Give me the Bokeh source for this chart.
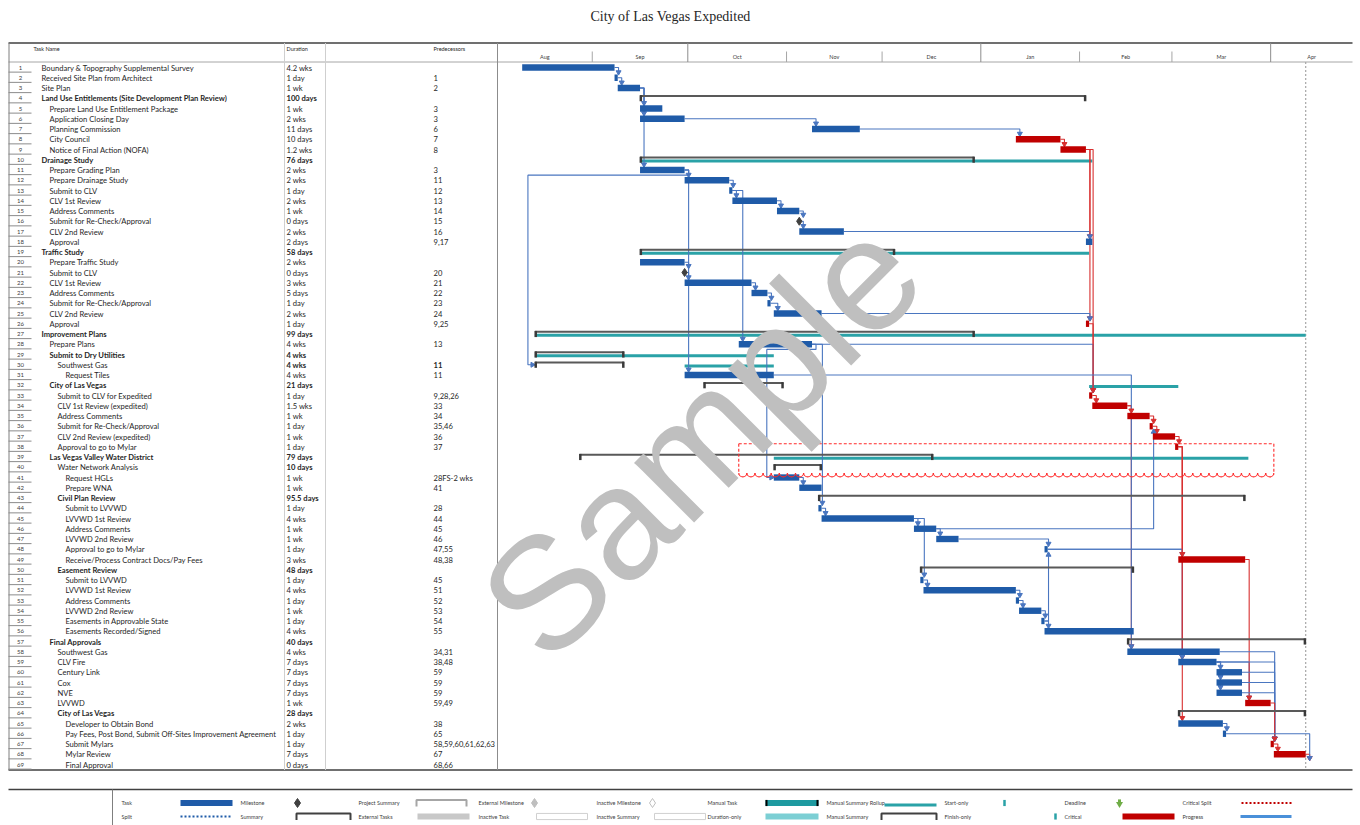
import re
import math
from datetime import datetime
from bokeh.plotting import figure
from bokeh.models import Range1d
from bokeh.core.properties import value
from bokeh.embed import file_html
from bokeh.resources import INLINE

# ---------------- data ----------------
title_text = "City of Las Vegas Expedited"

task_names = [
    "Boundary & Topography Supplemental Survey", "Received Site Plan from Architect", "Site Plan",
    "Land Use Entitlements (Site Development Plan Review)", "Prepare Land Use Entitlement Package",
    "Application Closing Day", "Planning Commission", "City Council", "Notice of Final Action (NOFA)",
    "Drainage Study", "Prepare Grading Plan", "Prepare Drainage Study", "Submit to CLV", "CLV 1st Review",
    "Address Comments", "Submit for Re-Check/Approval", "CLV 2nd Review", "Approval", "Traffic Study",
    "Prepare Traffic Study", "Submit to CLV", "CLV 1st Review", "Address Comments",
    "Submit for Re-Check/Approval", "CLV 2nd Review", "Approval", "Improvement Plans", "Prepare Plans",
    "Submit to Dry Utilities", "Southwest Gas", "Request Tiles", "City of Las Vegas",
    "Submit to CLV for Expedited", "CLV 1st Review (expedited)", "Address Comments",
    "Submit for Re-Check/Approval", "CLV 2nd Review (expedited)", "Approval to go to Mylar",
    "Las Vegas Valley Water District", "Water Network Analysis", "Request HGLs", "Prepare WNA",
    "Civil Plan Review", "Submit to LVVWD", "LVVWD 1st Review", "Address Comments", "LVVWD 2nd Review",
    "Approval to go to Mylar", "Receive/Process Contract Docs/Pay Fees", "Easement Review",
    "Submit to LVVWD", "LVVWD 1st Review", "Address Comments", "LVVWD 2nd Review",
    "Easements in Approvable State", "Easements Recorded/Signed", "Final Approvals", "Southwest Gas",
    "CLV Fire", "Century Link", "Cox", "NVE", "LVVWD", "City of Las Vegas", "Developer to Obtain Bond",
    "Pay Fees, Post Bond, Submit Off-Sites Improvement Agreement", "Submit Mylars", "Mylar Review",
    "Final Approval",
]

durations = [
    "4.2 wks", "1 day", "1 wk", "100 days", "1 wk", "2 wks", "11 days", "10 days", "1.2 wks", "76 days",
    "2 wks", "2 wks", "1 day", "2 wks", "1 wk", "0 days", "2 wks", "2 days", "58 days", "2 wks",
    "0 days", "3 wks", "5 days", "1 day", "2 wks", "1 day", "99 days", "4 wks", "4 wks", "4 wks",
    "4 wks", "21 days", "1 day", "1.5 wks", "1 wk", "1 day", "1 wk", "1 day", "79 days", "10 days",
    "1 wk", "1 wk", "95.5 days", "1 day", "4 wks", "1 wk", "1 wk", "1 day", "3 wks", "48 days",
    "1 day", "4 wks", "1 day", "1 wk", "1 day", "4 wks", "40 days", "4 wks", "7 days", "7 days",
    "7 days", "7 days", "1 wk", "28 days", "2 wks", "1 day", "1 day", "7 days", "0 days",
]

predecessors = [
    "", "1", "2", "", "3", "3", "6", "7", "8", "", "3", "11", "12", "13", "14", "15", "16", "9,17", "",
    "", "20", "21", "22", "23", "24", "9,25", "", "13", "", "11", "11", "", "9,28,26", "33", "34",
    "35,46", "36", "37", "", "", "28FS-2 wks", "41", "", "28", "44", "45", "46", "47,55", "48,38", "",
    "45", "51", "52", "53", "54", "55", "", "34,31", "38,48", "59", "59", "59", "59,49", "", "38",
    "65", "58,59,60,61,62,63", "67", "68,66",
]

outline_levels = [
    1, 1, 1, 1, 2, 2, 2, 2, 2, 1, 2, 2, 2, 2, 2, 2, 2, 2, 1, 2, 2, 2, 2, 2, 2, 2, 1, 2, 2, 3,
    4, 2, 3, 3, 3, 3, 3, 3, 2, 3, 4, 4, 3, 4, 4, 4, 4, 4, 4, 3, 4, 4, 4, 4, 4, 4, 2, 3, 3, 3,
    3, 3, 3, 3, 4, 4, 4, 4, 4,
]

summary_ids = [4, 10, 19, 27, 29, 30, 32, 39, 40, 43, 50, 57, 64]
milestone_ids = [16, 21, 69]
hidden_milestone_ids = [69]
critical_ids = [8, 9, 26, 33, 34, 35, 36, 37, 38, 49, 63, 67, 68, 69]
name_bold_ids = [4, 10, 19, 27, 29, 32, 39, 43, 50, 57, 64]
dur_bold_ids = [4, 10, 19, 27, 29, 30, 32, 39, 40, 43, 50, 57, 64]
pred_bold_ids = [30]

starts = [
    "2019-08-10", "2019-09-08", "2019-09-09", "2019-09-16", "2019-09-16", "2019-09-16", "2019-11-09",
    "2020-01-12", "2020-01-26", "2019-09-16", "2019-09-16", "2019-09-30", "2019-10-14", "2019-10-15",
    "2019-10-29", "2019-11-05", "2019-11-05", "2020-02-03", "2019-09-16", "2019-09-16", "2019-09-30",
    "2019-09-30", "2019-10-21", "2019-10-26", "2019-10-28", "2020-02-03", "2019-08-14", "2019-10-17",
    "2019-08-14", "2019-08-14", "2019-09-30", "2019-10-06", "2020-02-04", "2020-02-05", "2020-02-16",
    "2020-02-23", "2020-02-24", "2020-03-02", "2019-08-28", "2019-10-28", "2019-10-28", "2019-11-05",
    "2019-11-11", "2019-11-11", "2019-11-12", "2019-12-11", "2019-12-18", "2020-01-21", "2020-03-03",
    "2019-12-13", "2019-12-13", "2019-12-14", "2020-01-12", "2020-01-13", "2020-01-20", "2020-01-21",
    "2020-02-16", "2020-02-16", "2020-03-03", "2020-03-15", "2020-03-15", "2020-03-15", "2020-03-24",
    "2020-03-03", "2020-03-03", "2020-03-17", "2020-04-01", "2020-04-02", "2020-04-12",
]

finishes = [
    "2019-09-08", "2019-09-09", "2019-09-16", "2020-02-03", "2019-09-23", "2019-09-30", "2019-11-24",
    "2020-01-26", "2020-02-03", "2019-12-30", "2019-09-30", "2019-10-14", "2019-10-15", "2019-10-29",
    "2019-11-05", "2019-11-05", "2019-11-19", "2020-02-05", "2019-12-05", "2019-09-30", "2019-09-30",
    "2019-10-21", "2019-10-26", "2019-10-27", "2019-11-12", "2020-02-04", "2019-12-30", "2019-11-09",
    "2019-09-11", "2019-09-11", "2019-10-28", "2019-10-31", "2020-02-05", "2020-02-16", "2020-02-23",
    "2020-02-24", "2020-03-02", "2020-03-03", "2019-12-17", "2019-11-12", "2019-11-05", "2019-11-12",
    "2020-03-24", "2019-11-12", "2019-12-11", "2019-12-18", "2019-12-25", "2020-01-22", "2020-03-24",
    "2020-02-18", "2019-12-14", "2020-01-12", "2020-01-13", "2020-01-20", "2020-01-21", "2020-02-18",
    "2020-04-12", "2020-03-16", "2020-03-15", "2020-03-23", "2020-03-23", "2020-03-23", "2020-04-01",
    "2020-04-12", "2020-03-17", "2020-03-18", "2020-04-02", "2020-04-12", "2020-04-12",
]

rollup_ids = [10, 19, 27, 29, 30, 32, 39]
rollup_starts = ["2019-09-16", "2019-09-16", "2019-08-14", "2019-08-14", "2019-09-30", "2020-02-04", "2019-10-28"]
rollup_finishes = ["2020-02-05", "2020-02-04", "2020-04-12", "2019-10-28", "2019-10-28", "2020-03-03", "2020-03-25"]

months = ["Aug", "Sep", "Oct", "Nov", "Dec", "Jan", "Feb", "Mar", "Apr"]
month_starts = ["2019-08-01", "2019-09-01", "2019-10-01", "2019-11-01", "2019-12-01",
                "2020-01-01", "2020-02-01", "2020-03-01", "2020-04-01", "2020-05-01"]
quarter_starts = ["2019-10-01", "2020-01-01", "2020-04-01"]
deadline_date = "2020-04-12"
cloud_dates = ["2019-10-17", "2020-04-02"]
cloud_rows = [37.7, 40.7]
watermark_text = "Sample"

legend_row1 = ["Task", "Milestone", "Project Summary", "External Milestone", "Inactive Milestone",
               "Manual Task", "Manual Summary Rollup", "Start-only", "Deadline", "Critical Split"]
legend_row2 = ["Split", "Summary", "External Tasks", "Inactive Task", "Inactive Summary",
               "Duration-only", "Manual Summary", "Finish-only", "Critical", "Progress"]
legend_kind1 = ["bar_blue", "diamond_dark", "bracket_light", "diamond_gray", "diamond_white",
                "manual_task", "teal_line", "tick", "deadline", "dotted_red"]
legend_kind2 = ["dotted_blue", "bracket_dark", "bar_gray", "box_white", "box_white",
                "bar_lteal", "bracket_dark", "tick", "bar_red", "line_blue"]

# ---------------- layout constants ----------------
FIG_W, FIG_H = 1360, 825
ROW_PX = 10.25
PX_DAY = 3.185
DAY = 86400000.0
PX = DAY / PX_DAY
EPOCH = datetime(1970, 1, 1)


def ms(s):
    return (datetime.fromisoformat(s) - EPOCH).total_seconds() * 1000.0


def pg(y):  # page y -> row coordinate
    return 1 + (y - 67) / ROW_PX


def fx(x):  # page x -> figure x
    return x


TIMELINE_X = fx(497)
view_start = ms("2019-08-02") + 6 * 3600000.0
t0 = view_start - TIMELINE_X * PX
t1 = t0 + FIG_W * PX
view_end = view_start + (1352 - 497) * PX
Y_TOP = pg(0)

BLUE = "#1F5BA8"
RED = "#C00000"
TEAL = "#2AA2A7"
LINK_BLUE = "#4A76C0"
LINK_RED = "#D83030"
DARK = "#595959"
TXT = "#262626"
FONT = value("Lato")

p = figure(width=FIG_W, height=FIG_H, output_backend="svg", toolbar_location=None,
           x_range=Range1d(0, FIG_W), y_range=Range1d(Y_TOP + FIG_H / ROW_PX, Y_TOP),
           x_axis_location=None, y_axis_location=None, min_border=0,
           outline_line_color=None, background_fill_color="white", border_fill_color="white")
p.xgrid.visible = False
p.ygrid.visible = False
p.extra_x_ranges = {"time": Range1d(t0, t1)}

ids = list(range(1, len(task_names) + 1))
S = {i: ms(s) for i, s in zip(ids, starts)}
F = {i: ms(f) for i, f in zip(ids, finishes)}
kind = {i: ("summary" if i in summary_ids else "milestone" if i in milestone_ids else "task") for i in ids}

# ---------------- title ----------------
p.text([fx(670)], [pg(16)], text=[title_text], text_font=value("Liberation Serif"),
       text_font_size="14px", text_align="center", text_baseline="middle", text_color=TXT)

# ---------------- table frame ----------------
top_y, head_y, bot_y = pg(42.5), pg(61.5), pg(769.5)
p.segment([fx(8)], [top_y], [fx(1352)], [top_y], line_color="#404040", line_width=1.5)
p.segment([fx(8)], [head_y], [fx(1352)], [head_y], line_color="#A6A6A6", line_width=1)
p.segment([fx(8)], [bot_y], [fx(1352)], [bot_y], line_color="#404040", line_width=1.5)
p.segment([fx(8.5)], [top_y], [fx(8.5)], [bot_y], line_color="#7F7F7F", line_width=1)
p.segment([fx(284), fx(325)], [top_y, top_y], [fx(284), fx(325)], [bot_y, bot_y],
          line_color="#CFCFCF", line_width=1)
p.segment([TIMELINE_X], [top_y], [TIMELINE_X], [bot_y], line_color="#8C8C8C", line_width=1)
p.segment([fx(8)] * len(ids), [i + 0.45 for i in ids], [fx(31)] * len(ids), [i + 0.45 for i in ids],
          line_color="#8C8C8C", line_width=1)

hy = pg(48.5)
p.text([fx(33), fx(286), fx(433)], [hy] * 3, text=["Task Name", "Duration", "Predecessors"],
       text_font=FONT, text_font_size="5.5px", text_baseline="middle", text_color=TXT)

p.text([fx(20)] * len(ids), ids, text=[str(i) for i in ids], text_font=FONT, text_font_size="6px",
       text_align="center", text_baseline="middle", text_color="#404040")

LEVEL_X = {1: 41, 2: 49, 3: 57, 4: 65}
for bold in (False, True):
    style = "bold" if bold else "normal"
    sel = [i for i in ids if (i in name_bold_ids) == bold]
    p.text([fx(LEVEL_X[outline_levels[i - 1]]) for i in sel], sel, text=[task_names[i - 1] for i in sel],
           text_font=FONT, text_font_size="7.6px", text_baseline="middle", text_color=TXT,
           text_font_style=style)
    sel = [i for i in ids if (i in dur_bold_ids) == bold]
    p.text([fx(286)] * len(sel), sel, text=[durations[i - 1] for i in sel], text_font=FONT,
           text_font_size="7.6px", text_baseline="middle", text_color=TXT, text_font_style=style)
    sel = [i for i in ids if (i in pred_bold_ids) == bold and predecessors[i - 1]]
    p.text([fx(433)] * len(sel), sel, text=[predecessors[i - 1] for i in sel], text_font=FONT,
           text_font_size="7.6px", text_baseline="middle", text_color=TXT, text_font_style=style)

# ---------------- timeline header ----------------
M = [ms(m) for m in month_starts]
QS = [ms(q) for q in quarter_starts]
tall = [m for m in M[1:-1] if m in QS]
short = [m for m in M[1:-1] if m not in QS]
p.segment(tall, [top_y] * len(tall), tall, [head_y] * len(tall), line_color="#8C8C8C", x_range_name="time")
p.segment(short, [pg(51)] * len(short), short, [head_y] * len(short), line_color="#A6A6A6",
          x_range_name="time")
label_x = [(max(a, view_start) + min(b, view_end)) / 2 for a, b in zip(M[:-1], M[1:])]
p.text(label_x, [pg(56)] * len(months), text=months, text_font=FONT, text_font_size="5.5px",
       text_align="center", text_baseline="middle", text_color="#404040", x_range_name="time")

# deadline line
dl = ms(deadline_date)
p.segment([dl], [head_y], [dl], [bot_y], line_color="#A6A6A6", line_width=1.2, line_dash="2 2",
          x_range_name="time")

# ---------------- rollups (teal) ----------------
p.hbar(y=[r + 0.12 for r in rollup_ids], left=[ms(s) for s in rollup_starts],
       right=[ms(f) for f in rollup_finishes], height=0.3, fill_color=TEAL, line_color=None,
       x_range_name="time")

# ---------------- links ----------------
lx, ly, lc = [], [], []
arr = {"down": ([], [], []), "up": ([], [], []), "right": ([], [], [])}
for i in ids:
    for part in predecessors[i - 1].split(","):
        m = re.match(r"\s*(\d+)", part)
        if not m:
            continue
        pid = int(m.group(1))
        pe, pr = F[pid], pid
        ss, sr = S[i], i
        col = LINK_RED if pid in critical_ids else LINK_BLUE
        half = 0.4 if kind[i] == "milestone" else 0.3
        if ss < pe - 0.5 * DAY:
            xr = pe + 4 * PX
            xl = ss - 7 * PX
            ym = pr + 0.5
            lx.append([pe, xr, xr, xl, xl, ss - 3 * PX])
            ly.append([pr, pr, ym, ym, sr, sr])
            lc.append(col)
            a = arr["right"]
            a[0].append(ss - 2.5 * PX); a[1].append(sr); a[2].append(col)
        else:
            xv = max(ss, pe) + 4 * PX
            if sr > pr:
                ye = sr - half - 0.24
                a = arr["down"]
            else:
                ye = sr + half + 0.24
                a = arr["up"]
            lx.append([pe, xv, xv]); ly.append([pr, pr, ye]); lc.append(col)
            a[0].append(xv); a[1].append(ye); a[2].append(col)
p.multi_line(lx, ly, line_color=lc, line_width=1.1, x_range_name="time")
p.scatter(arr["down"][0], arr["down"][1], marker="inverted_triangle", size=5, fill_color=arr["down"][2],
          line_color=arr["down"][2], x_range_name="time")
p.scatter(arr["up"][0], arr["up"][1], marker="triangle", size=5, fill_color=arr["up"][2],
          line_color=arr["up"][2], x_range_name="time")
p.scatter(arr["right"][0], arr["right"][1], marker="triangle", angle=-math.pi / 2, size=5,
          fill_color=arr["right"][2], line_color=arr["right"][2], x_range_name="time")

# ---------------- task bars ----------------
tasks = [i for i in ids if kind[i] == "task"]
p.hbar(y=tasks, left=[S[i] for i in tasks], right=[F[i] for i in tasks], height=0.62,
       fill_color=[RED if i in critical_ids else BLUE for i in tasks], line_color=None, x_range_name="time")

# ---------------- summary brackets ----------------
bx = [[S[i], F[i]] for i in summary_ids]
by = [[i - 0.22, i - 0.22] for i in summary_ids]
p.multi_line(bx, by, line_color=DARK, line_width=2, x_range_name="time")
tx, ty = [], []
for i in summary_ids:
    for x in (S[i] + 0.8 * PX, F[i] - 0.8 * PX):
        tx.append([x, x]); ty.append([i - 0.3, i + 0.3])
p.multi_line(tx, ty, line_color="#3A3A3A", line_width=2.5, x_range_name="time")

# ---------------- milestones ----------------
ms_ids = [i for i in milestone_ids if i not in hidden_milestone_ids]
p.scatter([S[i] for i in ms_ids], ms_ids, marker="diamond", size=8, fill_color="#404040",
          line_color="#404040", x_range_name="time")

# ---------------- highlight cloud ----------------
c0, c1 = ms(cloud_dates[0]), ms(cloud_dates[1])
p.segment([c0, c0, c1], [cloud_rows[0], cloud_rows[0], cloud_rows[0]], [c1, c0, c1],
          [cloud_rows[0], cloud_rows[1], cloud_rows[1]], line_color="#FF2A2A", line_width=1.1,
          line_dash="3 2", x_range_name="time")
n_sc = int((c1 - c0) / (8 * PX))
sc_x = [c0 + (k + 0.5) * (c1 - c0) / n_sc for k in range(n_sc)]
p.arc(sc_x, [cloud_rows[1] - 0.15] * n_sc, radius=4, radius_units="screen", start_angle=math.pi,
      end_angle=2 * math.pi, line_color="#FF2A2A", line_width=1.1, x_range_name="time")

# ---------------- legend ----------------
leg_top = pg(789)
p.segment([fx(8)], [leg_top], [fx(1352)], [leg_top], line_color="#404040", line_width=1.5)
p.segment([fx(112)], [leg_top], [fx(112)], [pg(825)], line_color="#7F7F7F", line_width=1)
lab_x = [121, 240, 358, 478, 596, 707, 826, 944, 1064, 1182]
span1 = [(180, 232), (297, 297), (416, 466), (534, 534), (652, 652), (765, 818), (884, 936), (1004, 1004),
         (1119, 1119), (1241, 1291)]
span2 = [(180, 232), (296, 350), (417, 469), (536, 587), (654, 705), (765, 818), (881, 936), (1055, 1055),
         (1122, 1174), (1240, 1291)]


def sample(kindname, a, b, y):
    a, b = fx(a), fx(b)
    h = 0.6
    if kindname in ("bar_blue", "bar_gray", "bar_lteal", "bar_red"):
        c = {"bar_blue": BLUE, "bar_gray": "#C8C8C8", "bar_lteal": "#7CCFD4", "bar_red": RED}[kindname]
        p.quad(left=[a], right=[b], top=[y - h / 2], bottom=[y + h / 2], fill_color=c, line_color=None)
    elif kindname.startswith("diamond"):
        c = {"diamond_dark": "#404040", "diamond_gray": "#BFBFBF", "diamond_white": "white"}[kindname]
        p.scatter([a], [y], marker="diamond", size=9, fill_color=c,
                  line_color="#BFBFBF" if kindname != "diamond_dark" else c)
    elif kindname.startswith("bracket"):
        c = "#A6A6A6" if kindname == "bracket_light" else "#404040"
        p.multi_line([[a, a, b, b]], [[y + 0.35, y - 0.3, y - 0.3, y + 0.35]], line_color=c, line_width=2)
    elif kindname == "box_white":
        p.quad(left=[a], right=[b], top=[y - h / 2], bottom=[y + h / 2], fill_color="white",
               line_color="#D0D0D0")
    elif kindname == "manual_task":
        p.quad(left=[a], right=[b], top=[y - h / 2], bottom=[y + h / 2], fill_color="#1E9AA0", line_color=None)
        p.segment([a + 1, b - 1], [y - h / 2] * 2, [a + 1, b - 1], [y + h / 2] * 2, line_color="black",
                  line_width=2)
    elif kindname == "teal_line":
        p.segment([a], [y + 0.2], [b], [y + 0.2], line_color=TEAL, line_width=3)
    elif kindname == "tick":
        p.segment([a], [y - 0.3], [a], [y + 0.3], line_color=TEAL, line_width=2.5)
    elif kindname == "deadline":
        p.segment([a], [y - 0.35], [a], [y], line_color="#70AD47", line_width=3)
        p.scatter([a], [y + 0.1], marker="inverted_triangle", size=7, fill_color="#70AD47", line_color=None)
    elif kindname == "dotted_red":
        p.segment([a], [y], [b], [y], line_color="#C00000", line_width=2, line_dash="2 2")
    elif kindname == "dotted_blue":
        p.segment([a], [y], [b], [y], line_color=BLUE, line_width=2, line_dash="2 2")
    elif kindname == "line_blue":
        p.segment([a], [y], [b], [y], line_color="#4A90D9", line_width=3)


for labels, kinds, spans, y in ((legend_row1, legend_kind1, span1, pg(802.5)),
                                (legend_row2, legend_kind2, span2, pg(816))):
    p.text([fx(x) for x in lab_x], [y] * len(labels), text=labels, text_font=FONT, text_font_size="5.5px",
           text_baseline="middle", text_color="#404040")
    for k, (a, b) in zip(kinds, spans):
        sample(k, a, b, y)

# ---------------- watermark ----------------
p.text([fx(700)], [pg(437)], text=[watermark_text], angle=math.radians(45),
       text_font=value("Liberation Sans"), text_font_size="160px", text_align="center",
       text_baseline="middle", text_color="#BFBFBF")

open("out.html", "w").write(file_html(p, INLINE))
